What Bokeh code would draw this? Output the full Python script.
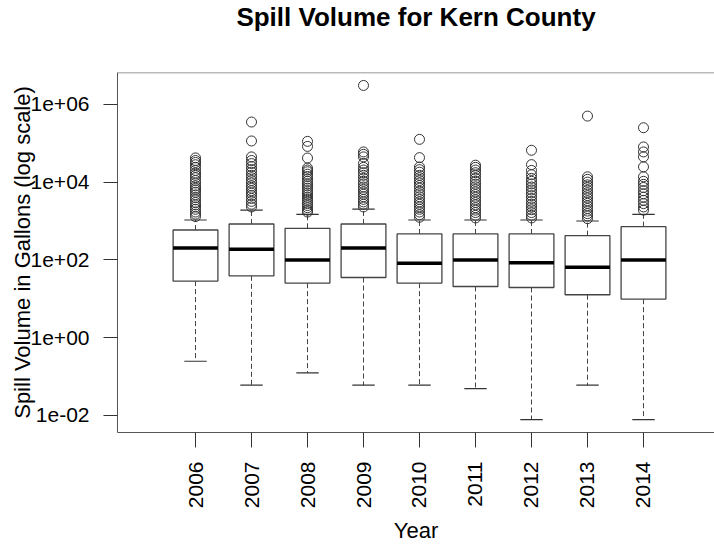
import math
from bokeh.plotting import figure
from bokeh.models import Range1d, FixedTicker, Span, Title
from bokeh.embed import file_html
from bokeh.resources import INLINE

# ---- data ----
years = ["2006", "2007", "2008", "2009", "2010", "2011", "2012", "2013", "2014"]
q1 = [28.5, 38.9, 25.3, 35.2, 25.3, 20.7, 19.5, 12.7, 9.8]
medians = [203, 188, 100, 203, 82, 100, 85, 65, 100]
q3 = [588, 837, 650, 837, 464, 464, 464, 420, 714]
whisker_low = [0.247, 0.060, 0.124, 0.060, 0.060, 0.049, 0.0078, 0.060, 0.0078]
whisker_high = [1061, 1915, 1486, 2030, 1061, 1061, 1061, 1000, 1486]

out_2006 = [1300, 1500, 1700, 2000, 2300, 2600, 3000, 3500, 4000, 4700, 5500, 6300,
            7000, 8000, 9500, 11000, 13000, 15000, 17000, 20000, 24000, 28000, 32000,
            36000, 42000]
out_2007 = [2300, 2700, 3200, 3800, 4500, 5200, 6000, 7000, 8000, 9500, 11000, 13000,
            15000, 18000, 21000, 25000, 30000, 36000, 44600, 114500, 351600]
out_2008 = [1700, 1900, 2200, 2500, 2800, 3200, 3600, 4100, 4700, 5300, 6000, 7000,
            8000, 9000, 10500, 12000, 14000, 16000, 18500, 20500, 23000, 41700, 83000,
            112000]
out_2009 = [2300, 2700, 3100, 3600, 4200, 4900, 5600, 6500, 7500, 9000, 10500, 12500,
            15000, 17500, 20500, 24000, 30200, 44600, 52000, 59800, 3070000]
out_2010 = [1250, 1450, 1700, 2000, 2300, 2700, 3100, 3600, 4200, 5000, 5800, 7000,
            8200, 9500, 11000, 13000, 15000, 18000, 21000, 24500, 42700, 126000]
out_2011 = [1200, 1400, 1650, 1900, 2200, 2600, 3000, 3500, 4100, 4800, 5600, 6500,
            7600, 8900, 10500, 12500, 15000, 17500, 20500, 24000, 27300]
out_2012 = [1200, 1400, 1650, 1950, 2300, 2700, 3200, 3800, 4500, 5300, 6300, 7500,
            9000, 10500, 12500, 15500, 20000, 28200, 66000]
out_2013 = [1150, 1350, 1550, 1800, 2100, 2450, 2850, 3300, 3900, 4500, 5300, 6200,
            7300, 8500, 10000, 11800, 13700, 500000]
out_2014 = [1900, 2300, 2800, 3400, 4100, 5000, 6000, 7300, 8800, 10500, 13700, 24700,
            44600, 59800, 80400, 251000]
outliers = [out_2006, out_2007, out_2008, out_2009, out_2010, out_2011, out_2012,
            out_2013, out_2014]

y_ticks = [0.01, 1, 100, 10000, 1000000]
y_tick_labels = ["1e-02", "1e+00", "1e+02", "1e+04", "1e+06"]
title_text = "Spill Volume for Kern County"

# ---- layout ----
positions = list(range(1, len(years) + 1))
box_w = 0.8
cap_w = 0.4
y_lo, y_hi = 10 ** -2.44, 10 ** 6.82

FONT = "Liberation Sans"

p = figure(width=714, height=546,
           x_range=Range1d(-0.393, 10.268), y_range=Range1d(y_lo, y_hi),
           y_axis_type="log", output_backend="svg", toolbar_location=None,
           min_border_left=117, min_border_right=0, min_border_top=72,
           min_border_bottom=113, background_fill_color="white",
           border_fill_color="white")
p.outline_line_color = None
p.grid.visible = False

# spacer between frame and title (stacked next to the frame), then the title
p.add_layout(Title(text=" ", text_font_size="10px", standoff=30), "above")
p.title.text = title_text
p.title.align = "center"
p.title.text_font = FONT
p.title.text_font_size = "26px"
p.title.text_font_style = "bold"
p.title.text_color = "black"
p.title.standoff = -4

# x axis
xa = p.xaxis[0]
xa.ticker = FixedTicker(ticks=positions)
xa.major_label_overrides = {pos: y for pos, y in zip(positions, years)}
xa.major_label_orientation = math.pi / 2
xa.major_label_text_font = FONT
xa.major_label_text_font_size = "21px"
xa.major_label_text_color = "black"
xa.major_label_standoff = 14
xa.major_tick_out = 15
xa.major_tick_in = 0
xa.minor_tick_line_color = None
xa.axis_line_color = "#555555"
xa.major_tick_line_color = "#333333"
xa.axis_label = "Year"
xa.axis_label_text_font = FONT
xa.axis_label_text_font_size = "22px"
xa.axis_label_text_font_style = "normal"
xa.axis_label_text_color = "black"
xa.axis_label_standoff = 7

# y axis
ya = p.yaxis[0]
ya.ticker = FixedTicker(ticks=y_ticks)
ya.major_label_overrides = {t: l for t, l in zip(y_ticks, y_tick_labels)}
ya.major_label_text_font = FONT
ya.major_label_text_font_size = "21px"
ya.major_label_text_color = "black"
ya.major_label_standoff = 14
ya.major_tick_out = 14
ya.major_tick_in = 0
ya.minor_tick_line_color = None
ya.axis_line_color = "#555555"
ya.major_tick_line_color = "#333333"
ya.axis_label = "Spill Volume in Gallons (log scale)"
ya.axis_label_text_font = FONT
ya.axis_label_text_font_size = "22px"
ya.axis_label_text_font_style = "normal"
ya.axis_label_text_color = "black"
ya.axis_label_standoff = -7

p.add_layout(Span(location=y_hi, dimension="width", line_color="#777777", line_width=1.5))

# whiskers
p.segment(x0=positions, y0=q3, x1=positions, y1=whisker_high,
          line_color="#444444", line_width=1, line_dash="5 3")
p.segment(x0=positions, y0=q1, x1=positions, y1=whisker_low,
          line_color="#444444", line_width=1, line_dash="5 3")
# caps
left_cap = [x - cap_w / 2 for x in positions]
right_cap = [x + cap_w / 2 for x in positions]
p.segment(x0=left_cap, y0=whisker_high, x1=right_cap, y1=whisker_high,
          line_color="#333333", line_width=1.2)
p.segment(x0=left_cap, y0=whisker_low, x1=right_cap, y1=whisker_low,
          line_color="#333333", line_width=1.2)
# boxes
p.vbar(x=positions, width=box_w, bottom=q1, top=q3, fill_color="white",
       line_color="#444444", line_width=1.3)
# medians
p.segment(x0=[x - box_w / 2 for x in positions], y0=medians,
          x1=[x + box_w / 2 for x in positions], y1=medians,
          line_color="black", line_width=3.5)
# outliers
ox, oy = [], []
for pos, vals in zip(positions, outliers):
    ox.extend([pos] * len(vals))
    oy.extend(vals)
p.scatter(x=ox, y=oy, marker="circle", size=10, fill_color=None,
          line_color="#333333", line_width=1)

open("out.html", "w").write(file_html(p, INLINE))
